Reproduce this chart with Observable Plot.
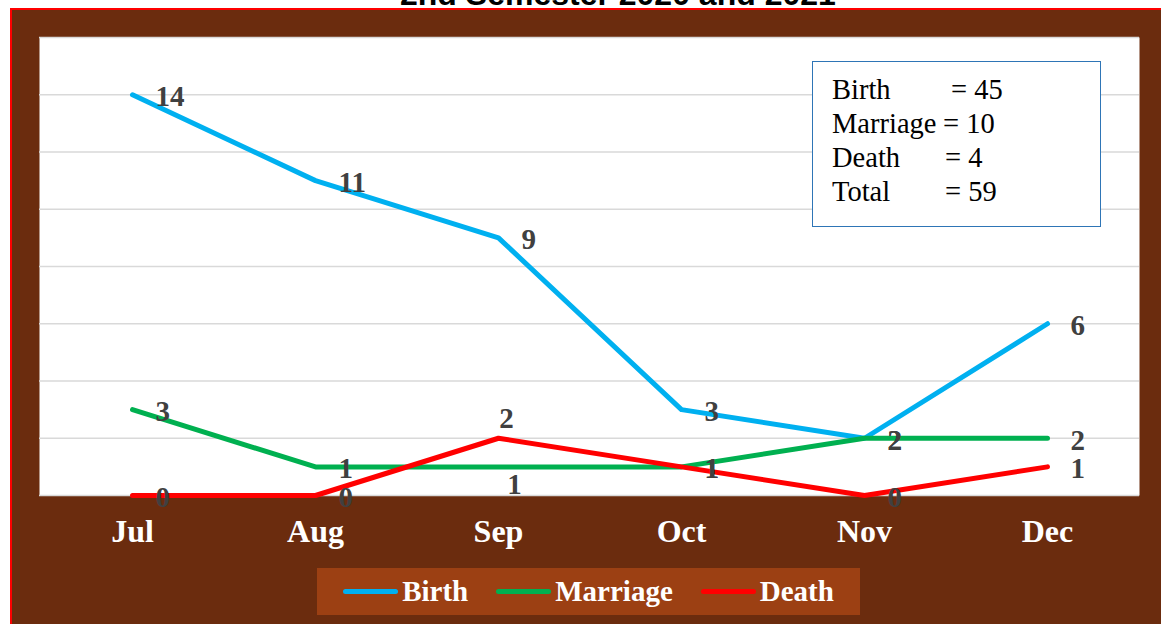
<!DOCTYPE html>
<html>
<head>
<meta charset="utf-8">
<script src="https://cdn.jsdelivr.net/npm/d3@7"></script>
<script src="https://cdn.jsdelivr.net/npm/@observablehq/plot@0.6"></script>
<style>
  html, body { margin: 0; padding: 0; background: #ffffff; overflow: hidden; }
  #root { position: relative; width: 1161px; height: 624px; overflow: hidden; }
  #title { position: absolute; top: -22px; left: 400px; white-space: nowrap;
    font: bold 32px "Liberation Sans", Arial, sans-serif; line-height: 32px; color: #000; }
  #panel { position: absolute; left: 10px; top: 8px; width: 1151px; height: 616px; box-sizing: border-box;
    background: #6B2C0E; border-left: 2px solid #FF0000; border-top: 2px solid #FF0000; }
  #chart { position: absolute; left: 0; top: 0; }
  #legend { position: absolute; left: 317px; top: 568px; width: 543px; height: 47px; background: #9C4013;
    display: flex; align-items: center; justify-content: center; gap: 28px;
    font: bold 29px "Liberation Serif", "Times New Roman", serif; color: #fff; }
  #legend .item { display: flex; align-items: center; gap: 4px; }
  #legend .sw { width: 55px; height: 5px; border-radius: 3px; }
  #box { position: absolute; left: 812px; top: 61px; width: 289px; height: 166px; box-sizing: border-box;
    background: #fff; border: 1.5px solid #2E75B6; padding-top: 11px;
    font: 28.5px "Liberation Serif", "Times New Roman", serif; color: #000; }
  #box .row { position: relative; height: 34px; line-height: 34px; padding-left: 19px; white-space: nowrap; }
  #box .eq { position: absolute; top: 0; }
</style>
</head>
<body>
<div id="root">
  <div id="title">2nd Semester 2020 and 2021</div>
  <div id="panel"></div>
  <div id="chart"></div>
  <div id="box"></div>
  <div id="legend"></div>
</div>
<script>
const months = ["Jul", "Aug", "Sep", "Oct", "Nov", "Dec"];
const birth = [14, 11, 9, 3, 2, 6];
const marriage = [3, 1, 1, 1, 2, 2];
const death = [0, 0, 2, 1, 0, 1];
const seriesNames = ["Birth", "Marriage", "Death"];
const seriesColors = ["#00B0F0", "#00B050", "#FF0000"];
const yTicks = [0, 2, 4, 6, 8, 10, 12, 14, 16];

const seriesValues = [birth, marriage, death];
const rows = [];
seriesNames.forEach((s, i) => {
  months.forEach((m, j) => rows.push({series: s, month: m, value: seriesValues[i][j]}));
});

const serif = '"Liberation Serif", "Times New Roman", serif';
const labelStyle = {fill: "#404040", fontSize: 29, fontWeight: "bold", fontFamily: serif};

const isAbove = d => d.series === "Death" && d.month === "Sep";
const isBelow = d => d.series === "Marriage" && d.month === "Sep";
const normal = rows.filter(d => !isAbove(d) && !isBelow(d));

const chart = Plot.plot({
  width: 1161,
  height: 624,
  marginLeft: 39,
  marginRight: 22,
  marginTop: 37,
  marginBottom: 129,
  style: {background: "transparent", overflow: "visible"},
  x: {type: "point", domain: months, padding: 0.5},
  y: {domain: [0, 16], axis: null},
  color: {domain: seriesNames, range: seriesColors},
  marks: [
    Plot.frame({fill: "white", stroke: null}),
    Plot.ruleY(yTicks, {stroke: "#D9D9D9", strokeWidth: 1.5}),
    Plot.axisX({tickSize: 0, tickPadding: 24, color: "white", fill: "white", fontSize: 32,
      fontWeight: "bold", fontFamily: serif, label: null}),
    Plot.line(rows, {x: "month", y: "value", z: "series", stroke: "series", strokeWidth: 5,
      strokeLinecap: "round", strokeLinejoin: "round"}),
    Plot.text(normal, {x: "month", y: "value", text: d => String(d.value), textAnchor: "start",
      dx: 23, dy: 2, ...labelStyle}),
    Plot.text(rows.filter(isAbove), {x: "month", y: "value", text: d => String(d.value),
      textAnchor: "middle", dx: 8, dy: -20, ...labelStyle}),
    Plot.text(rows.filter(isBelow), {x: "month", y: "value", text: d => String(d.value),
      textAnchor: "middle", dx: 16, dy: 18, ...labelStyle})
  ]
});
document.getElementById("chart").appendChild(chart);

// Totals text box
const sums = seriesValues.map(v => d3.sum(v));
const boxRows = seriesNames.map((s, i) => [s, sums[i]]);
boxRows.push(["Total", d3.sum(sums)]);
const box = document.getElementById("box");
boxRows.forEach(([label, val], i) => {
  const r = document.createElement("div");
  r.className = "row";
  r.textContent = label;
  const eq = document.createElement("span");
  eq.className = "eq";
  eq.style.left = (i === 0 ? 138 : i === 1 ? 130 : 132) + "px";
  eq.textContent = "= " + val;
  r.appendChild(eq);
  box.appendChild(r);
});

// Legend
const legend = document.getElementById("legend");
seriesNames.forEach((s, i) => {
  const it = document.createElement("div");
  it.className = "item";
  const sw = document.createElement("div");
  sw.className = "sw";
  sw.style.background = seriesColors[i];
  const t = document.createElement("span");
  t.textContent = s;
  it.appendChild(sw);
  it.appendChild(t);
  legend.appendChild(it);
});
</script>
</body>
</html>
